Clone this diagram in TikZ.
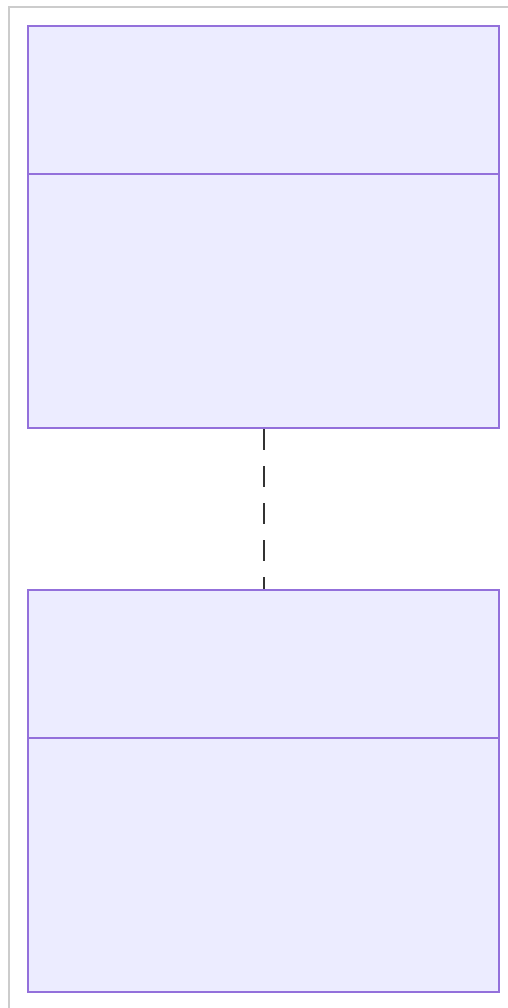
\documentclass[tikz,border=0pt]{standalone}
\usetikzlibrary{positioning}
\definecolor{boxfill}{HTML}{ECECFF}
\definecolor{boxline}{HTML}{9370DB}
\definecolor{edgecol}{HTML}{333333}
\definecolor{framecol}{HTML}{CCCCCC}
\tikzset{
  classbox/.style={draw=boxline, fill=boxfill, line width=2.4pt, rectangle, minimum width=471pt, minimum height=402pt, inner sep=0pt, anchor=north west},
  divider/.style={draw=boxline, line width=2.4pt},
  depline/.style={draw=edgecol, line width=2pt, dash pattern=on 21pt off 16pt},
  framestyle/.style={draw=framecol, line width=2pt}
}
\begin{document}
\begin{tikzpicture}[x=1pt,y=-1pt]
\useasboundingbox (0,0) rectangle (507,1008);
\draw[framestyle] (9,1010) -- (9,7) -- (510,7);
\node[classbox] (A) at (27,25) {};
\node[classbox] (B) at (27,589) {};
\coordinate (Adl) at (27,174);
\coordinate (Adr) at (498,174);
\coordinate (Bdl) at (27,738);
\coordinate (Bdr) at (498,738);
\draw[divider] (Adl) -- (Adr);
\draw[divider] (Bdl) -- (Bdr);
\draw[depline] (A.south) -- (B.north);
\end{tikzpicture}
\end{document}
